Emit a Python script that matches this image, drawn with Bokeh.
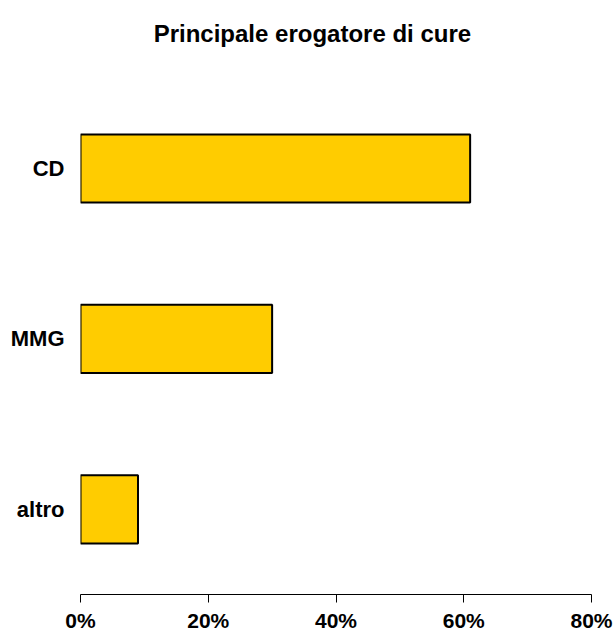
from bokeh.plotting import figure
from bokeh.models import Range1d, FixedTicker, PrintfTickFormatter, Label
from bokeh.embed import file_html
from bokeh.resources import INLINE

categories = ["altro", "MMG", "CD"]
values = [9, 30, 61]
x_ticks = [0, 20, 40, 60, 80]
title_text = "Principale erogatore di cure"

FONT = "Liberation Sans"

# category slots: each category occupies one unit, centred at i + 0.5
y_pos = [i + 0.5 for i in range(len(categories))]

p = figure(frame_width=511, frame_height=594, output_backend="svg", toolbar_location=None,
           y_range=Range1d(0, 3.486),
           x_range=Range1d(0, 80),
           min_border_left=80, min_border_right=23, min_border_top=0, min_border_bottom=40)

p.hbar(y=y_pos, right=values, left=0, height=0.4,
       fill_color="#FFCC00", line_color="black", line_width=2)

p.outline_line_color = None
p.xgrid.visible = False
p.ygrid.visible = False

xa = p.xaxis[0]
xa.ticker = FixedTicker(ticks=x_ticks)
xa.formatter = PrintfTickFormatter(format="%d%%")
xa.axis_line_color = "black"
xa.axis_line_width = 1
xa.major_tick_line_color = "black"
xa.major_tick_out = 8
xa.major_tick_in = 0
xa.minor_tick_line_color = None
xa.major_label_standoff = 6
xa.major_label_text_font = FONT
xa.major_label_text_font_style = "bold"
xa.major_label_text_font_size = "21px"
xa.major_label_text_color = "black"

ya = p.yaxis[0]
ya.ticker = FixedTicker(ticks=y_pos)
ya.major_label_overrides = {pos: cat for pos, cat in zip(y_pos, categories)}
ya.axis_line_color = None
ya.major_tick_line_color = None
ya.minor_tick_line_color = None
ya.major_label_standoff = 10
ya.major_label_text_font = FONT
ya.major_label_text_font_style = "bold"
ya.major_label_text_font_size = "22px"
ya.major_label_text_color = "black"

title = Label(x=36.3, y=3.294, text=title_text,
              text_align="center", text_baseline="alphabetic",
              text_font=FONT, text_font_style="bold", text_font_size="24px",
              text_color="black")
p.add_layout(title)

open("out.html", "w").write(file_html(p, INLINE))
